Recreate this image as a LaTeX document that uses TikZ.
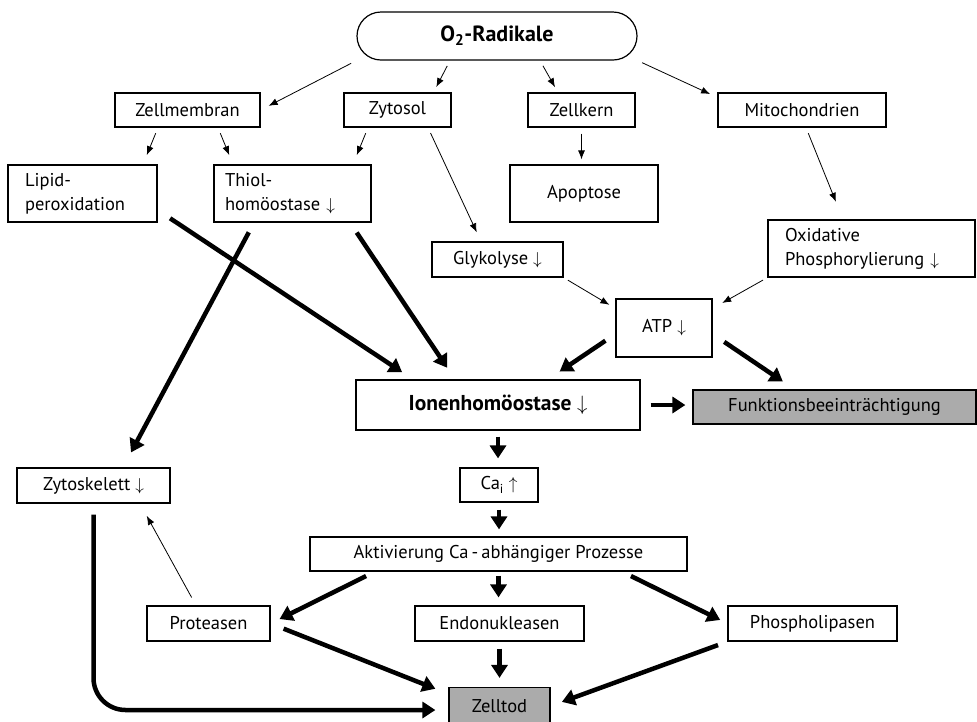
\documentclass[tikz,border=0pt]{standalone}
\usepackage{fontspec}
\setmainfont{PT Sans}
\usetikzlibrary{arrows.meta}

\begin{document}
\begin{tikzpicture}[x=1pt, y=-1pt,
  box/.style = {draw, line width=1.2pt, inner sep=0pt, font=\fontsize{18.5}{24}\selectfont},
  grey/.style = {box, fill=black!33},
  thinarr/.style = {line width=0.8pt, -{Latex[length=9pt,width=7pt]}},
  thickarr/.style = {line width=4.5pt, -{Triangle[length=13pt,width=16pt]}}]
\useasboundingbox (0,0) rectangle (977,721);
% boxes
\node[box, rounded corners=24pt, minimum width=280pt, minimum height=48pt, font=\fontsize{22}{24}\selectfont\bfseries] (rad) at (497,36) {O\textsubscript{2}-Radikale};
\node[box, minimum width=145pt, minimum height=34pt] (mem) at (187.5,110) {Zellmembran};
\node[box, minimum width=107pt, minimum height=34pt] (zyt) at (397.5,110) {Zytosol};
\node[box, minimum width=107pt, minimum height=34pt] (kern) at (581.5,110) {Zellkern};
\node[box, minimum width=168pt, minimum height=34pt] (mito) at (802,110) {Mitochondrien};
\node[box, minimum width=149pt, minimum height=57pt, text width=115pt, align=left] (lip) at (82.5,193.5) {Lipid-\\peroxidation};
\node[box, minimum width=157pt, minimum height=57pt, text width=135pt, align=left] (thiol) at (292.5,193.5) {Thiol-\\homöostase $\downarrow$};
\node[box, minimum width=148pt, minimum height=57pt] (apo) at (584,193.5) {Apoptose};
\node[box, minimum width=131pt, minimum height=35pt] (glyk) at (497.5,259.5) {Glykolyse $\downarrow$};
\node[box, minimum width=207pt, minimum height=57pt, text width=173pt, align=left] (oxi) at (871.5,248.5) {Oxidative\\Phosphorylierung $\downarrow$};
\node[box, minimum width=96pt, minimum height=58pt] (atp) at (664,328) {ATP $\downarrow$};
\node[box, minimum width=284pt, minimum height=50pt, font=\fontsize{21.5}{24}\selectfont\bfseries] (ion) at (498,405) {Ionenhomöostase $\downarrow$};
\node[grey, minimum width=283pt, minimum height=34pt] (funk) at (834.5,407) {Funktionsbeeinträchtigung};
\node[box, minimum width=78pt, minimum height=34pt] (ca) at (499,485) {Ca\textsubscript{i} $\uparrow$};
\node[box, minimum width=153pt, minimum height=35pt] (skel) at (93.5,485.5) {Zytoskelett $\downarrow$};
\node[box, minimum width=377pt, minimum height=34pt] (akt) at (498.5,554) {Aktivierung Ca\,-\,abhängiger Prozesse};
\node[box, minimum width=123pt, minimum height=35pt] (prot) at (208.5,623.5) {Proteasen};
\node[box, minimum width=169pt, minimum height=35pt] (endo) at (499.5,623.5) {Endonukleasen};
\node[box, minimum width=169pt, minimum height=35pt] (phos) at (812.5,623.5) {Phospholipasen};
\node[grey, minimum width=101pt, minimum height=37pt] (tod) at (499.5,706) {Zelltod};
% thin arrows
\draw[thinarr, shorten <=6pt, shorten >=9pt] (rad.south west) -- (mem.east);
\draw[thinarr, shorten <=6pt, shorten >=6pt] ([xshift=-47pt]rad.south) -- ([xshift=36pt]zyt.north);
\draw[thinarr, shorten <=6pt, shorten >=6pt] ([xshift=43pt]rad.south) -- ([xshift=-23.5pt]kern.north);
\draw[thinarr, shorten <=5pt, shorten >=8pt] (rad.south east) -- ([yshift=-5pt]mito.north west);
\draw[thinarr, shorten <=6pt, shorten >=10pt] ([xshift=-29.5pt]mem.south) -- ([xshift=60.5pt]lip.north);
\draw[thinarr, shorten <=6pt, shorten >=10pt] ([xshift=30.5pt]mem.south) -- ([xshift=-59.5pt]thiol.north);
\draw[thinarr, shorten <=6pt, shorten >=10pt] ([xshift=-29.5pt]zyt.south) -- ([xshift=60.5pt]thiol.north);
\draw[thinarr, shorten <=6pt, shorten >=10pt] ([xshift=30.5pt]zyt.south) -- ([xshift=-16.5pt]glyk.north);
\draw[thinarr, shorten <=6pt, shorten >=5pt] (kern.south) -- (kern.south |- apo.north);
\draw[thinarr, shorten <=6pt, shorten >=19pt] ([xshift=4pt]mito.south) -- ([xshift=-28.5pt]oxi.north);
\draw[thinarr, shorten <=5pt, shorten >=7pt] (glyk.south east) -- ([yshift=-10pt]atp.north west);
\draw[thinarr, shorten <=5pt, shorten >=11pt] (oxi.south west) -- ([yshift=-10pt]atp.north east);
\draw[thinarr, shorten <=9pt, shorten >=14pt] ([xshift=-12.5pt]prot.north) -- ([xshift=46.5pt]skel.south);
% thick arrows
\draw[thickarr, shorten <=15pt, shorten >=13pt] ([yshift=-16.5pt]lip.east) -- ([xshift=-85pt]ion.north);
\draw[thickarr, shorten <=12pt, shorten >=14pt] ([xshift=57.5pt]thiol.south) -- ([xshift=-43pt]ion.north);
\draw[thickarr, shorten <=11pt, shorten >=17pt] ([xshift=-38.5pt]thiol.south) -- ([xshift=29.5pt]skel.north);
\draw[thickarr, shorten <=12pt, shorten >=14pt] ([yshift=-6pt]atp.west) -- ([xshift=50pt]ion.north);
\draw[thickarr, shorten <=14pt, shorten >=14pt] ([yshift=-6pt]atp.east) -- ([xshift=-40pt]funk.north);
\draw[thickarr, shorten <=10pt, shorten >=7pt] (ion.east) -- (ion.east -| funk.west);
\draw[thickarr, shorten <=6pt, shorten >=9pt] (ion.south) -- (ion.south |- ca.north);
\draw[thickarr, shorten <=7pt, shorten >=7pt] (ca.south) -- (ca.south |- akt.north);
\draw[thickarr, shorten <=4pt, shorten >=8pt] (akt.south) -- (akt.south |- endo.north);
\draw[thickarr, shorten <=10pt, shorten >=10pt] ([xshift=-123.5pt]akt.south) -- (prot.east);
\draw[thickarr, shorten <=10pt, shorten >=8pt] ([xshift=123.5pt]akt.south) -- (phos.west);
\draw[thickarr, shorten <=7pt, shorten >=9pt] (endo.south) -- (endo.south |- tod.north);
\draw[thickarr, shorten <=14pt, shorten >=14pt] (prot.east) -- ([yshift=-7pt]tod.north west);
\draw[thickarr, shorten <=10pt, shorten >=12pt] (phos.south west) -- (tod.east);
\draw[thickarr, rounded corners=32pt, shorten <=11pt, shorten >=13pt] (skel.south) |- ([yshift=-4pt]tod.west);
\end{tikzpicture}
\end{document}
